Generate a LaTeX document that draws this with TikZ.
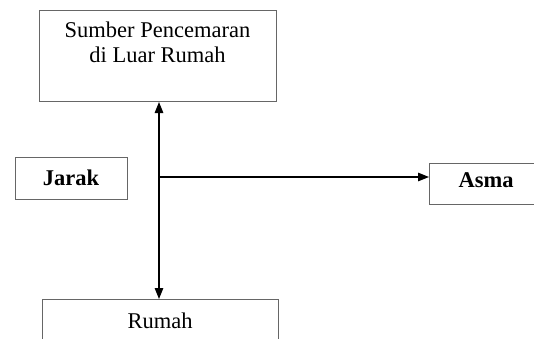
\documentclass[tikz,border=0pt]{standalone}
\usepackage{fontspec}
\setmainfont{Liberation Serif}
\usetikzlibrary{arrows.meta}
\tikzset{
  boxstyle/.style={draw=black!60, line width=1pt, inner sep=0pt, anchor=north west},
  lbl/.style={font=\fontsize{22.5}{25}\selectfont, anchor=base, inner sep=0pt},
  blbl/.style={lbl, font=\fontsize{22.5}{25}\selectfont\bfseries},
  arr/.style={line width=1.3pt, -{Triangle[length=11pt,width=8.5pt]}},
  dblarr/.style={line width=1.3pt, {Triangle[length=11pt,width=8.5pt]}-{Triangle[length=11pt,width=8.5pt]}}
}
\begin{document}
\begin{tikzpicture}[x=1pt,y=-1pt]
\useasboundingbox (0,0) rectangle (534,338);
\clip (0,0) rectangle (534,338);
\fill[white] (0,0) rectangle (534,338);
% boxes
\node[boxstyle, minimum width=237pt, minimum height=91pt] (src) at (39,10) {};
\node[boxstyle, minimum width=112pt, minimum height=42pt] (jarak) at (15,157) {};
\node[boxstyle, minimum width=114pt, minimum height=41pt] (asma) at (429,163) {};
\node[boxstyle, minimum width=236pt, minimum height=50pt] (rumah) at (42,299) {};
% texts
\node[lbl] (t1) at (157.5,37) {Sumber Pencemaran};
\node[lbl] (t2) at (157.5,62) {di Luar Rumah};
\node[blbl] (tj) at (71,185) {Jarak};
\node[blbl] (ta) at (486,187) {Asma};
\node[lbl] (tr) at (160,328) {Rumah};
% connectors
\coordinate (j) at (159,177);
\draw[dblarr] (src.south -| j) -- (rumah.north -| j);
\draw[arr] (j) -- (asma.west |- j);
\end{tikzpicture}
\end{document}
